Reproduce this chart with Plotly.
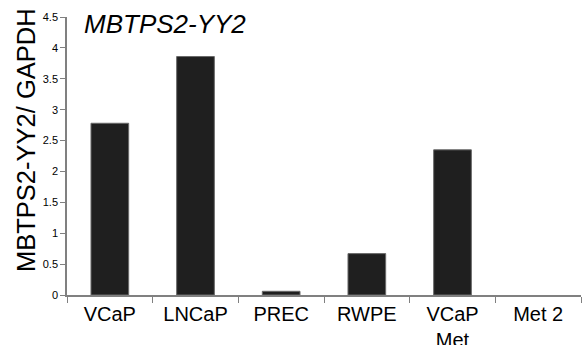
import plotly.graph_objects as go

categories = ["VCaP", "LNCaP", "PREC", "RWPE", "VCaP<br>Met", "Met 2"]
values = [2.78, 3.86, 0.06, 0.67, 2.35, 0.0]
y_ticks = [0, 0.5, 1, 1.5, 2, 2.5, 3, 3.5, 4, 4.5]
y_tick_labels = ["0", "0.5", "1", "1.5", "2", "2.5", "3", "3.5", "4", "4.5"]

W, H = 584, 345
L, R, T, B = 67, 3, 17, 50
pw, ph = W - L - R, H - T - B

fig = go.Figure(go.Bar(
    x=categories, y=values, width=0.44,
    marker=dict(color="#1f1f1f",
                line=dict(color="#6a6a6a", width=[1 if v > 0 else 0 for v in values])),
))

fig.update_layout(
    width=W, height=H,
    margin=dict(l=L, r=R, t=T, b=B),
    paper_bgcolor="white", plot_bgcolor="white",
    showlegend=False,
    font=dict(family="Liberation Sans, Arial, sans-serif", color="black"),
)
fig.add_annotation(text="<i>MBTPS2-YY2</i>", xref="paper", yref="paper",
                   x=(82 - L) / pw, y=1 - (24 - T) / ph, xanchor="left", yanchor="middle",
                   showarrow=False, font=dict(size=26, color="black"))
fig.add_annotation(text="MBTPS2-YY2/ GAPDH", xref="paper", yref="paper",
                   x=(26 - L) / pw, y=1 - (140 - T) / ph, xanchor="center", yanchor="middle",
                   textangle=-90, showarrow=False, font=dict(size=25.5, color="black"))

fig.update_xaxes(
    type="category", tickson="boundaries", ticks="outside", ticklen=6,
    tickcolor="#808080", showline=True, linecolor="#808080", linewidth=1.5,
    tickfont=dict(size=20), showgrid=False, range=[-0.5, 5.5], automargin=False,
)
fig.update_yaxes(
    range=[0, 4.5], tickvals=y_ticks, ticktext=y_tick_labels,
    ticks="outside", ticklen=5, tickcolor="#808080", showline=True,
    linecolor="#808080", linewidth=1.5, tickfont=dict(size=11),
    showgrid=False, zeroline=False, automargin=False,
)

fig.write_html("out.html", config={"displayModeBar": False},
               post_script="document.body.style.margin='0';")
